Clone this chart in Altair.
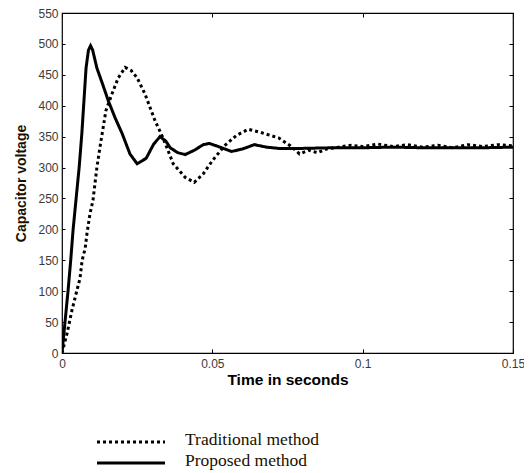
import altair as alt
import pandas as pd

# Proposed method (solid)
prop_t = [0, 0.001, 0.002, 0.0029, 0.0037, 0.0047, 0.0057, 0.0066, 0.0073, 0.008, 0.0088,
          0.0095, 0.0102, 0.0116, 0.0135, 0.0154, 0.0177, 0.020, 0.0226, 0.025, 0.028,
          0.0305, 0.0326, 0.0345, 0.036, 0.0385, 0.041, 0.044, 0.047, 0.049, 0.052,
          0.0564, 0.060, 0.064, 0.068, 0.072, 0.08, 0.09, 0.1, 0.11, 0.12, 0.13, 0.14, 0.15]
prop_v = [0, 50, 100, 150, 200, 250, 300, 355, 408, 461, 490,
          497, 490, 461, 435, 408, 380, 355, 322, 306, 315,
          338, 350, 343, 332, 324, 321, 328, 337, 339, 334,
          326, 330, 337, 333, 331, 331, 332, 332, 333, 332, 332, 332, 333]

# Traditional method (dotted)
trad_t = [0, 0.0017, 0.0033, 0.005, 0.006, 0.0067, 0.0077, 0.0083, 0.0093, 0.0103, 0.0116,
          0.0126, 0.0137, 0.0146, 0.0166, 0.0187, 0.021, 0.023, 0.025, 0.0276, 0.031,
          0.0336, 0.037, 0.041, 0.044, 0.047, 0.050, 0.054, 0.058, 0.062, 0.066,
          0.072, 0.076, 0.079, 0.082, 0.085, 0.088, 0.092, 0.096, 0.1, 0.105, 0.11,
          0.115, 0.12, 0.125, 0.13, 0.135, 0.14, 0.145, 0.15]
trad_v = [0, 32, 69, 102, 121, 150, 169, 193, 225, 247, 300,
          332, 365, 392, 419, 445, 462, 457, 445, 419, 375,
          348, 306, 284, 276, 290, 311, 335, 352, 362, 357,
          348, 335, 322, 328, 324, 330, 333, 336, 334, 338, 334,
          337, 333, 336, 332, 337, 334, 337, 335]

series_names = ["Traditional method", "Proposed method"]
series_dash = [[3, 3], [1, 0]]

df = pd.concat([
    pd.DataFrame({"t": trad_t, "v": trad_v, "series": series_names[0], "order": range(len(trad_t))}),
    pd.DataFrame({"t": prop_t, "v": prop_v, "series": series_names[1], "order": range(len(prop_t))}),
])

x_ticks = [0, 0.05, 0.1, 0.15]
y_ticks = list(range(0, 551, 50))

xscale = alt.Scale(domain=[0, 0.15], nice=False, zero=False)
yscale = alt.Scale(domain=[0, 550], nice=False)

label_color = "#3a3a3a"

main = alt.Chart(df).mark_line(color="black", strokeWidth=3, clip=True).encode(
    x=alt.X("t:Q", scale=xscale,
            axis=alt.Axis(values=x_ticks, format=".2~f", title="Time in seconds",
                          orient="bottom", domain=False, tickSize=4, offset=-4,
                          tickColor="black", labelPadding=5, labelFontSize=12,
                          labelFont="Liberation Sans", labelColor=label_color,
                          labelFlush=False,
                          titleFont="Liberation Sans", titleFontSize=15.5,
                          titleFontWeight="bold", titleColor="black", titlePadding=3,
                          grid=False)),
    y=alt.Y("v:Q", scale=yscale,
            axis=alt.Axis(values=y_ticks, title="Capacitor voltage", orient="left",
                          domain=False, tickSize=3, offset=-3, tickColor="black",
                          labelPadding=4, labelFontSize=12, labelFont="Liberation Sans",
                          labelColor=label_color, labelFlush=False,
                          titleFont="Liberation Sans",
                          titleFontSize=14, titleFontWeight="bold", titleColor="#1a1000",
                          titlePadding=9, grid=False)),
    strokeDash=alt.StrokeDash("series:N",
                              scale=alt.Scale(domain=series_names, range=series_dash),
                              legend=None),
    order="order:Q",
    detail="series:N",
)

frame_axes = alt.Chart(df).mark_point(opacity=0).encode(
    x=alt.X("t:Q", scale=xscale,
            axis=alt.Axis(values=x_ticks, orient="top", labels=False, title=None,
                          domain=False, tickSize=4, offset=-4, tickColor="black", grid=False)),
    y=alt.Y("v:Q", scale=yscale,
            axis=alt.Axis(values=y_ticks, orient="right", labels=False, title=None,
                          domain=False, tickSize=4, offset=-4, tickColor="black", grid=False)),
)

# Manual legend below the plot
legend_layers = []
one = pd.DataFrame({"k": [0]})
for i, name in enumerate(series_names):
    legend_layers.append(
        alt.Chart(one).mark_rule(color="black", strokeWidth=3, strokeDash=series_dash[i]).encode(
            x=alt.value(35), x2=alt.value(103), y=alt.value(429 + 21 * i))
    )
    legend_layers.append(
        alt.Chart(one).mark_text(align="left", baseline="middle", font="Liberation Serif",
                                 fontSize=17.5, color="#1a1000").encode(
            x=alt.value(123), y=alt.value(427 + 21 * i), text=alt.value(name))
    )

chart = alt.layer(main, frame_axes, *legend_layers).resolve_axis(
    x="independent", y="independent").properties(
    width=451, height=340,
    autosize=alt.AutoSizeParams(type="none"),
    padding={"left": 54, "top": 5, "right": 11, "bottom": 118},
    background="white",
).configure_view(stroke="black", strokeWidth=1.2)

chart.save("out.html", embed_options={"renderer": "svg", "actions": False})
